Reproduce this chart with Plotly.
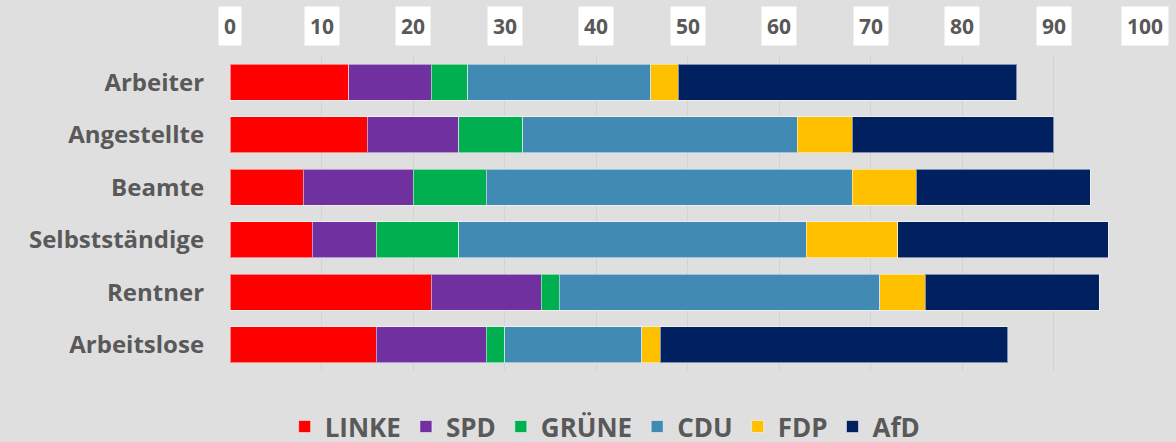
import plotly.graph_objects as go

groups = ["Arbeiter", "Angestellte", "Beamte", "Selbstständige", "Rentner", "Arbeitslose"]
parties = ["LINKE", "SPD", "GRÜNE", "CDU", "FDP", "AfD"]
linke = [13, 15, 8, 9, 22, 16]
spd = [9, 10, 12, 7, 12, 12]
gruene = [4, 7, 8, 9, 2, 2]
cdu = [20, 30, 40, 38, 35, 15]
fdp = [3, 6, 7, 10, 5, 2]
afd = [37, 22, 19, 23, 19, 38]
ticks = [0, 10, 20, 30, 40, 50, 60, 70, 80, 90, 100]

colors = ["#FF0000", "#7030A0", "#00B050", "#418AB3", "#FFC000", "#002060"]
values = [linke, spd, gruene, cdu, fdp, afd]
txt = "#595959"

fig = go.Figure()
for name, vals, col in zip(parties, values, colors):
    fig.add_trace(go.Bar(
        y=groups, x=vals, name=name, orientation="h",
        marker=dict(color=col, line=dict(color="rgba(255,255,255,0.5)", width=1)),
    ))

# tick labels with white boxes, as in the original
for t in ticks:
    fig.add_annotation(x=t, y=1, xref="x", yref="paper", yanchor="middle", yshift=30,
                       text=f"<b>{t}</b>", showarrow=False, bgcolor="white",
                       borderpad=5,
                       font=dict(family="Open Sans", size=21, color=txt))

fig.update_layout(
    barmode="stack",
    bargap=0.31,
    width=1176, height=442,
    paper_bgcolor="#DFDFDF",
    plot_bgcolor="#DFDFDF",
    margin=dict(l=230, r=31, t=56, b=71),
    font=dict(family="Open Sans", color=txt),
    xaxis=dict(range=[0, 100], tickvals=ticks, showticklabels=False,
               showgrid=True, gridcolor="#D3D3D3", gridwidth=1, zeroline=False),
    yaxis=dict(autorange="reversed", ticksuffix="    ",
               tickfont=dict(family="Open Sans", size=24, weight="bold", color=txt)),
    legend=dict(orientation="h", x=0.41, xanchor="center",
                yref="container", y=0.088, yanchor="top",
                font=dict(family="Open Sans", size=26, weight="bold", color=txt),
                traceorder="normal", itemwidth=30),
    showlegend=True,
)

fig.write_html("out.html", config={"displayModeBar": False},
               post_script="document.body.style.margin='0';")
